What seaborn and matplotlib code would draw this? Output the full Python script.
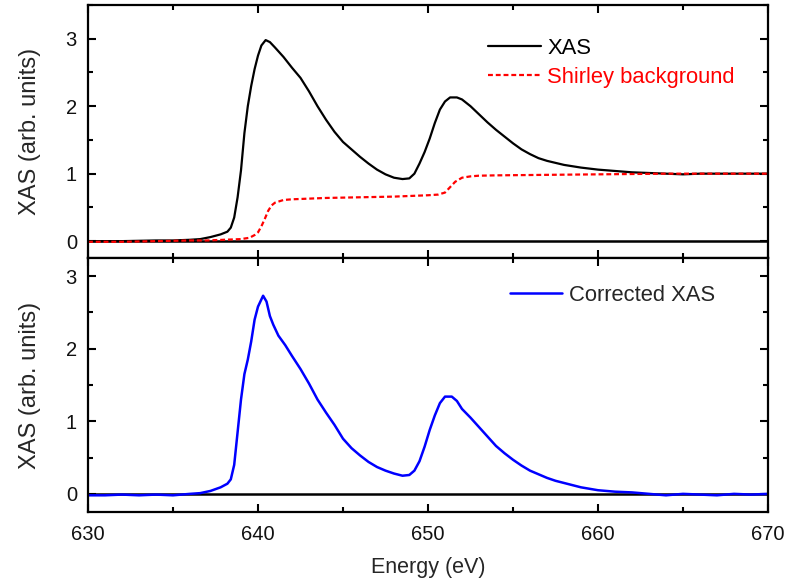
import numpy as np
import pandas as pd
import matplotlib
matplotlib.use("Agg")
import matplotlib.pyplot as plt
from matplotlib.ticker import MultipleLocator
import seaborn as sns

# ---- data ----
xas_energy = [630, 632, 634, 635, 636, 636.6, 637.2, 637.8, 638.2, 638.4, 638.6, 638.8,
              639.0, 639.2, 639.4, 639.6, 639.8, 640.0, 640.2, 640.45, 640.7, 641.0,
              641.5, 642.0, 642.5, 643.0, 643.5, 644.0, 644.5, 645.0, 645.5, 646.0,
              646.5, 647.0, 647.5, 648.0, 648.5, 648.9, 649.2, 649.5, 649.8, 650.1,
              650.4, 650.7, 651.0, 651.3, 651.7, 652.0, 652.5, 653.0, 653.5, 654.0,
              654.5, 655.0, 655.5, 656.0, 656.5, 657.0, 657.5, 658.0, 658.5, 659.0,
              660.0, 661.0, 662.0, 663.0, 664.0, 665.0, 666.0, 667.0, 668.0, 669.0, 670.0]
xas_value = [0.0, 0.0, 0.01, 0.01, 0.02, 0.03, 0.06, 0.1, 0.14, 0.2, 0.35, 0.65,
             1.05, 1.6, 2.0, 2.3, 2.55, 2.75, 2.9, 2.98, 2.95, 2.87,
             2.73, 2.57, 2.42, 2.22, 2.0, 1.8, 1.62, 1.47, 1.36, 1.25,
             1.15, 1.06, 0.99, 0.94, 0.92, 0.93, 1.0, 1.15, 1.32, 1.52,
             1.75, 1.95, 2.07, 2.13, 2.13, 2.1, 2.0, 1.88, 1.76, 1.65,
             1.55, 1.45, 1.36, 1.29, 1.23, 1.19, 1.16, 1.13, 1.11, 1.09,
             1.06, 1.04, 1.02, 1.01, 1.0, 0.99, 1.0, 1.0, 1.0, 1.0, 1.0]

shirley_energy = [630, 632, 634, 636, 637, 638, 639, 639.5, 639.8, 640.0, 640.2, 640.4,
                  640.6, 640.8, 641.0, 641.5, 642.0, 643.0, 644.0, 645.0, 646.0, 647.0,
                  648.0, 649.0, 650.0, 650.6, 651.0, 651.3, 651.6, 652.0, 652.5, 653.0,
                  654.0, 656.0, 658.0, 660.0, 662.0, 664.0, 670.0]
shirley_value = [-0.01, -0.01, 0.0, 0.01, 0.01, 0.02, 0.03, 0.05, 0.09, 0.13, 0.22, 0.33,
                 0.45, 0.53, 0.57, 0.61, 0.62, 0.63, 0.64, 0.645, 0.65, 0.655,
                 0.66, 0.67, 0.68, 0.69, 0.72, 0.8, 0.88, 0.94, 0.96, 0.97,
                 0.975, 0.98, 0.985, 0.99, 0.995, 1.0, 1.0]

corr_energy = [630, 631, 632, 633, 634, 635, 636, 636.6, 637.2, 637.8, 638.2, 638.4,
               638.6, 638.8, 639.0, 639.2, 639.4, 639.6, 639.8, 640.0, 640.3, 640.5,
               640.7, 640.9, 641.2, 641.6, 642.0, 642.5, 643.0, 643.5, 644.0, 644.5,
               645.0, 645.5, 646.0, 646.5, 647.0, 647.5, 648.0, 648.5, 648.9, 649.2,
               649.5, 649.8, 650.1, 650.4, 650.7, 651.0, 651.4, 651.7, 652.0, 652.5,
               653.0, 653.5, 654.0, 654.5, 655.0, 655.5, 656.0, 656.5, 657.0, 657.5,
               658.0, 658.5, 659.0, 659.5, 660.0, 661.0, 662.0, 663.0, 664.0, 665.0,
               666.0, 667.0, 668.0, 669.0, 670.0]
corr_value = [-0.02, -0.02, -0.01, -0.02, -0.01, -0.02, 0.0, 0.01, 0.04, 0.09, 0.14, 0.2,
              0.4, 0.85, 1.3, 1.65, 1.85, 2.1, 2.4, 2.58, 2.73, 2.65,
              2.45, 2.33, 2.18, 2.05, 1.9, 1.72, 1.52, 1.3, 1.12, 0.95,
              0.76, 0.63, 0.53, 0.44, 0.37, 0.32, 0.28, 0.25, 0.26, 0.32,
              0.45, 0.65, 0.88, 1.08, 1.25, 1.34, 1.34, 1.28, 1.17, 1.05,
              0.92, 0.79, 0.66, 0.56, 0.47, 0.39, 0.32, 0.27, 0.22, 0.18,
              0.15, 0.12, 0.09, 0.07, 0.05, 0.03, 0.02, 0.0, -0.02, 0.0,
              -0.01, -0.02, 0.0, -0.01, 0.0]

x_ticks = [630, 640, 650, 660, 670]
y_ticks = [0, 1, 2, 3]

# ---- style ----
sns.set_style("ticks")
plt.rcParams["font.family"] = ["Liberation Sans", "DejaVu Sans"]

fig = plt.figure(figsize=(7.85, 5.81), dpi=100)
L, R = 88 / 785, 768 / 785
ax1 = fig.add_axes([L, 1 - 258 / 581, R - L, (258 - 5) / 581])
ax2 = fig.add_axes([L, 1 - 512 / 581, R - L, (512 - 258) / 581])

sns.lineplot(x=xas_energy, y=xas_value, ax=ax1, color="black", lw=1.6,
             label="XAS", estimator=None)
sns.lineplot(x=shirley_energy, y=shirley_value, ax=ax1, color="red", lw=1.6,
             label="Shirley background", estimator=None)
ax1.lines[-1].set_linestyle((0, (2.2, 1.3)))
sns.lineplot(x=corr_energy, y=corr_value, ax=ax2, color="#0000ff", lw=1.8,
             label="Corrected XAS", estimator=None)

for ax in (ax1, ax2):
    ax.axhline(0, color="black", lw=1.8, zorder=1)
    ax.set_xlim(630, 670)
    ax.set_xticks(x_ticks)
    ax.set_yticks(y_ticks)
    ax.xaxis.set_minor_locator(MultipleLocator(5))
    ax.yaxis.set_minor_locator(MultipleLocator(0.5))
    ax.tick_params(which="both", direction="in", top=True, right=True,
                   width=1.5, labelsize=14.5, color="black", labelcolor="#111111")
    ax.tick_params(which="major", length=6)
    ax.tick_params(axis="x", which="major", pad=9)
    ax.tick_params(axis="y", which="major", pad=8)
    ax.tick_params(which="minor", length=3.5)
    for s in ax.spines.values():
        s.set_linewidth(1.6)
        s.set_color("black")
        s.set_visible(True)
    ax.set_ylabel("XAS (arb. units)", fontsize=17, labelpad=18)

ax1.set_ylim(-0.25, 3.5)
ax2.set_ylim(-0.25, 3.25)
ax1.tick_params(labelbottom=False)
ax1.set_xlabel("")
ax2.set_xlabel("Energy (eV)", fontsize=15.5, labelpad=10)

leg1 = ax1.legend(loc="upper right", bbox_to_anchor=(0.964, 0.905), frameon=False,
                  fontsize=15.8, handlelength=2.4, handletextpad=0.3, labelspacing=0.38,
                  borderaxespad=0)
for txt, c in zip(leg1.get_texts(), ["black", "red"]):
    txt.set_color(c)
leg2 = ax2.legend(loc="upper right", bbox_to_anchor=(0.935, 0.93), frameon=False,
                  fontsize=15.8, handlelength=2.4, handletextpad=0.3, borderaxespad=0)

fig.savefig("out.png", dpi=100)
